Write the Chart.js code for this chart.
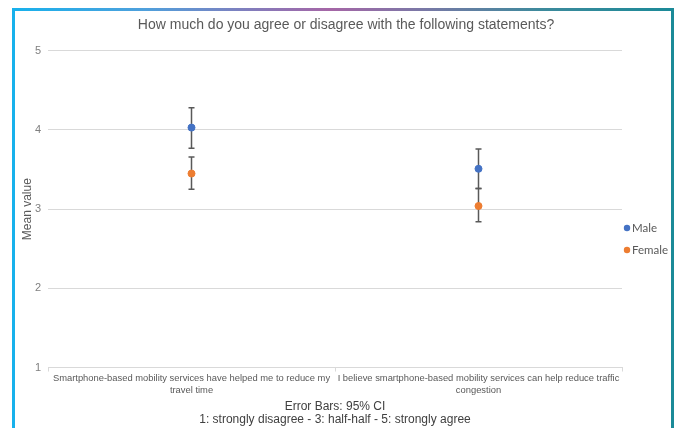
<!DOCTYPE html>
<html>
<head>
<meta charset="utf-8">
<script src="https://cdn.jsdelivr.net/npm/chart.js@4.4.1/dist/chart.umd.min.js"></script>
<style>
  html, body { margin: 0; padding: 0; background: #fff; }
  #wrap { position: relative; width: 680px; height: 428px; overflow: hidden; }
  #chart { position: absolute; left: 0; top: 0; }
  .edge { position: absolute; }
  #edgeTop { left: 12px; top: 8px; width: 662px; height: 3px;
    background: linear-gradient(to right, #17b1ec 0%, #4fa0dc 20%, #8f74b4 40%, #a566a6 48%, #7a78a6 62%, #3d8a9c 80%, #1b8a98 100%); }
  #edgeLeft { left: 12px; top: 8px; width: 3px; height: 420px; background: #17b1ec; }
  #edgeRight { left: 671px; top: 8px; width: 3px; height: 420px; background: #1b8a98; }
</style>
</head>
<body>
<div id="wrap">
  <canvas id="chart" width="680" height="428"></canvas>
  <div class="edge" id="edgeTop"></div>
  <div class="edge" id="edgeLeft"></div>
  <div class="edge" id="edgeRight"></div>
</div>
<script>
const categories = [
  ['Smartphone-based mobility services have helped me to reduce my', 'travel time'],
  ['I believe smartphone-based mobility services can help reduce traffic', 'congestion']
];
const seriesNames = ['Male', 'Female'];
const seriesColors = ['#4472c4', '#ed7d31'];
const maleMean = [4.03, 3.51];
const maleLow = [3.77, 3.26];
const maleHigh = [4.28, 3.76];
const femaleMean = [3.45, 3.04];
const femaleLow = [3.25, 2.84];
const femaleHigh = [3.66, 3.26];
const yTicks = [1, 2, 3, 4, 5];
const footNotes = ['Error Bars: 95% CI', '1: strongly disagree - 3: half-half - 5: strongly agree'];

// draws the 95% CI whiskers under the points
const errorBars = {
  id: 'errorBars',
  beforeDatasetsDraw(chart) {
    const ctx = chart.ctx;
    const yScale = chart.scales.y;
    chart.data.datasets.forEach((ds, i) => {
      const meta = chart.getDatasetMeta(i);
      meta.data.forEach((pt, j) => {
        const top = yScale.getPixelForValue(ds.errHigh[j]);
        const bot = yScale.getPixelForValue(ds.errLow[j]);
        ctx.save();
        ctx.strokeStyle = '#595959';
        ctx.lineWidth = 1.5;
        ctx.beginPath();
        ctx.moveTo(pt.x, top);
        ctx.lineTo(pt.x, bot);
        ctx.moveTo(pt.x - 3, top);
        ctx.lineTo(pt.x + 3, top);
        ctx.moveTo(pt.x - 3, bot);
        ctx.lineTo(pt.x + 3, bot);
        ctx.stroke();
        ctx.restore();
      });
    });
  }
};

// small legend to the right of the plot, like the office chart
const sideLegend = {
  id: 'sideLegend',
  afterDraw(chart) {
    const ctx = chart.ctx;
    const x = chart.chartArea.right + 5;
    ctx.save();
    ctx.font = '11.5px Lato';
    ctx.textBaseline = 'middle';
    chart.data.datasets.forEach((ds, i) => {
      const y = 228 + i * 22;
      ctx.fillStyle = ds.pointBackgroundColor;
      ctx.beginPath();
      ctx.arc(x, y, 3.2, 0, Math.PI * 2);
      ctx.fill();
      ctx.fillStyle = '#595959';
      ctx.fillText(ds.label, x + 5, y);
    });
    ctx.restore();
  }
};

new Chart(document.getElementById('chart').getContext('2d'), {
  type: 'line',
  data: {
    labels: categories,
    datasets: [
      {
        label: seriesNames[0],
        data: maleMean,
        errLow: maleLow,
        errHigh: maleHigh,
        showLine: false,
        pointRadius: 3.5,
        pointBackgroundColor: seriesColors[0],
        pointBorderColor: seriesColors[0],
        borderColor: seriesColors[0]
      },
      {
        label: seriesNames[1],
        data: femaleMean,
        errLow: femaleLow,
        errHigh: femaleHigh,
        showLine: false,
        pointRadius: 3.5,
        pointBackgroundColor: seriesColors[1],
        pointBorderColor: seriesColors[1],
        borderColor: seriesColors[1]
      }
    ]
  },
  options: {
    responsive: false,
    animation: false,
    layout: { padding: { left: 20, right: 8, top: 11, bottom: 2 } },
    plugins: {
      title: {
        display: true,
        text: 'How much do you agree or disagree with the following statements?',
        color: '#595959',
        font: { family: 'Liberation Sans', size: 14, weight: 'normal', lineHeight: 1.2 },
        padding: { top: 6, bottom: 17 }
      },
      legend: { display: false },
      tooltip: { enabled: false }
    },
    scales: {
      x: {
        offset: true,
        afterFit: s => { s.paddingLeft = 0; s.paddingRight = 0; },
        grid: {
          offset: true,
          drawOnChartArea: false,
          drawTicks: true,
          tickLength: 4,
          color: '#d9d9d9'
        },
        border: { display: true, color: '#d9d9d9' },
        ticks: {
          color: '#595959',
          autoSkip: false,
          maxRotation: 0,
          padding: 1,
          font: { family: 'Liberation Sans', size: 9.4, lineHeight: 1.28 }
        },
        title: {
          display: true,
          text: footNotes,
          color: '#404040',
          font: { family: 'Liberation Sans', size: 12, lineHeight: 1.1 },
          padding: { top: 2, bottom: 0 }
        }
      },
      y: {
        min: 1,
        max: 5,
        afterBuildTicks: axis => { axis.ticks = yTicks.map(v => ({ value: v })); },
        afterFit: s => { s.width = 28; },
        grid: { color: '#d9d9d9', drawTicks: false },
        border: { display: false },
        ticks: {
          color: '#7f7f7f',
          padding: 7,
          font: { family: 'Liberation Sans', size: 11 }
        },
        title: {
          display: true,
          text: 'Mean value',
          color: '#595959',
          font: { family: 'Liberation Sans', size: 12, lineHeight: 1.2 },
          padding: { top: 0, bottom: 0 }
        }
      },
      // empty right-hand axis that only reserves room for the legend
      legendSpace: {
        type: 'linear',
        position: 'right',
        display: true,
        min: 1,
        max: 5,
        afterFit: s => { s.width = 50; },
        grid: { drawOnChartArea: false, drawTicks: false },
        border: { display: false },
        ticks: { display: false }
      }
    }
  },
  plugins: [errorBars, sideLegend]
});
</script>
</body>
</html>
